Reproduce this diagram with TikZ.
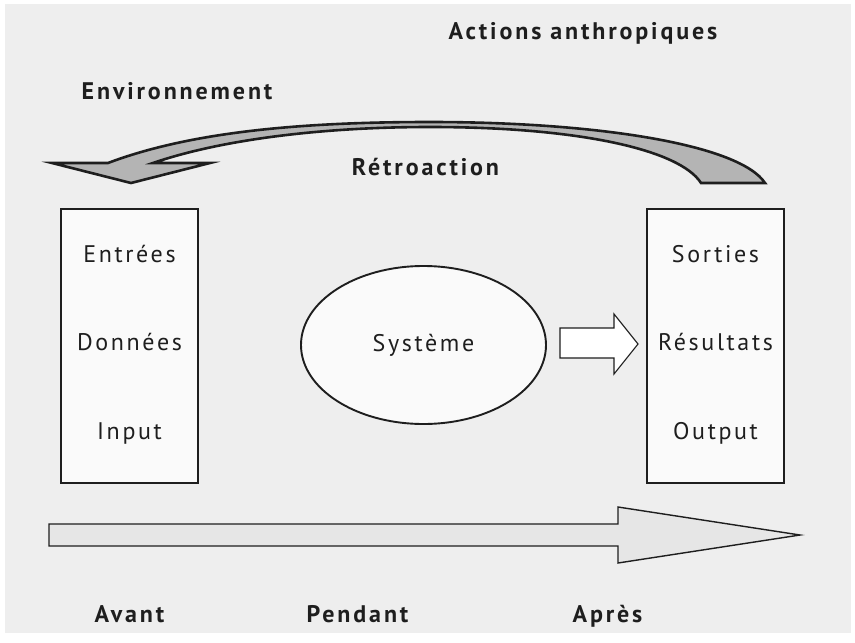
\documentclass[tikz,border=0pt]{standalone}
\usepackage{fontspec}
\setmainfont{PT Sans}[LetterSpace=11]
\usetikzlibrary{shapes.geometric}

\definecolor{bggray}{HTML}{EEEEEE}
\definecolor{ink}{HTML}{1E1E1E}
\definecolor{paper}{HTML}{FAFAFA}
\definecolor{loopgray}{HTML}{B4B4B4}
\definecolor{timegray}{HTML}{E6E6E6}

\begin{document}
\begin{tikzpicture}[x=1pt,y=-1pt,line join=miter]
  \tikzstyle{label}=[anchor=base,inner sep=0pt,text=ink,
    font=\bfseries\fontsize{24}{28}\selectfont\addfontfeature{LetterSpace=12}]
  \tikzstyle{item}=[anchor=base,inner sep=0pt,text=ink,
    font=\fontsize{24}{28}\selectfont]
  \tikzstyle{panel}=[draw=ink,line width=2.7pt,fill=paper,inner sep=0pt,
    minimum width=137pt,minimum height=274pt]

  \useasboundingbox (0,0) rectangle (855,643);
  \fill[bggray] (5,4) rectangle (851,633);

  % feedback loop
  \draw[draw=ink,line width=2.6pt,fill=loopgray]
    (765,183) .. controls (740,145) and (600,122) .. (430,122)
    .. controls (300,122) and (190,132) .. (108,163)
    -- (52,163) -- (131,183) -- (210,163) -- (153,163)
    .. controls (220,140) and (320,127) .. (430,127)
    .. controls (580,127) and (680,150) .. (701,183) -- cycle;

  \node[panel] (inbox)  at (129.5,346) {};
  \node[panel] (outbox) at (715.5,346) {};
  \node[ellipse,draw=ink,line width=1.9pt,fill=paper,inner sep=0pt,
    minimum width=245pt,minimum height=158pt,text=ink,
    font=\fontsize{24}{28}\selectfont] (sys) at (423.5,345) {Système};

  % system to outputs
  \draw[draw=ink,line width=1.1pt,fill=white]
    (560,328) -- (614,328) -- (614,314) -- (638,344) -- (614,374)
    -- (614,358) -- (560,358) -- cycle;

  % time line
  \draw[draw=ink,line width=1.4pt,fill=timegray]
    (49,524) -- (618,524) -- (618,507) -- (800,535) -- (618,563)
    -- (618,546) -- (49,546) -- cycle;

  \node[item] (entrees)   at (129.5,262.7) {Entrées};
  \node[item] (donnees)   at (129.5,350)   {Données};
  \node[item] (input)     at (129.5,439)   {Input};
  \node[item] (sorties)   at (715.5,262.7) {Sorties};
  \node[item] (resultats) at (715.5,350)   {Résultats};
  \node[item] (output)    at (715.5,439)   {Output};

  \node[label] (actions) at (583,39)    {Actions anthropiques};
  \node[label] (env)     at (177,99)    {Environnement};
  \node[label] (retro)   at (425.5,175) {Rétroaction};
  \node[label] (avant)   at (129.5,622) {Avant};
  \node[label] (pendant) at (357.5,622) {Pendant};
  \node[label] (apres)   at (607.5,622) {Après};
\end{tikzpicture}
\end{document}
